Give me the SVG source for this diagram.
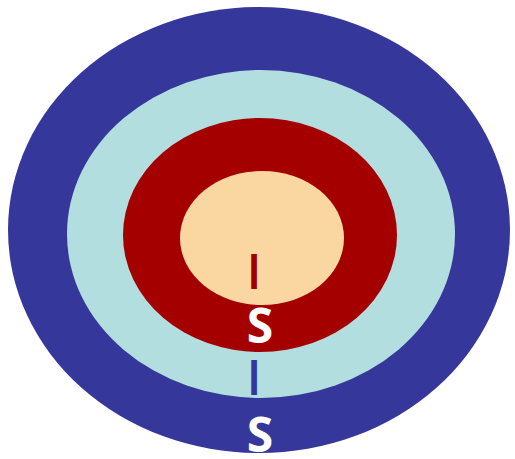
<svg xmlns="http://www.w3.org/2000/svg" width="515" height="459" viewBox="0 0 515 459">
<style>
.t{font-family:"Open Sans","Liberation Sans",sans-serif;font-size:48px;text-anchor:middle}
.i{font-weight:600}
.b{font-weight:bold;fill:#ffffff}
</style>
<rect width="515" height="459" fill="#ffffff"/>
<g id="outer"><ellipse cx="259" cy="230" rx="251" ry="223" fill="#35379A"/></g>
<g id="light"><ellipse cx="261" cy="234" rx="194" ry="164" fill="#B3DEE0"/></g>
<g id="red"><ellipse cx="260" cy="235" rx="137" ry="117" fill="#A50000"/></g>
<g id="core"><ellipse cx="262" cy="238" rx="82" ry="67" fill="#FAD7A1"/></g>
<g id="labels">
<text class="t i" x="254" y="289" fill="#A00000">I</text>
<text class="t b" x="260" y="343">S</text>
<text class="t i" x="254" y="395" fill="#35379A">I</text>
<text class="t b" x="260" y="452">S</text>
</g>
</svg>
